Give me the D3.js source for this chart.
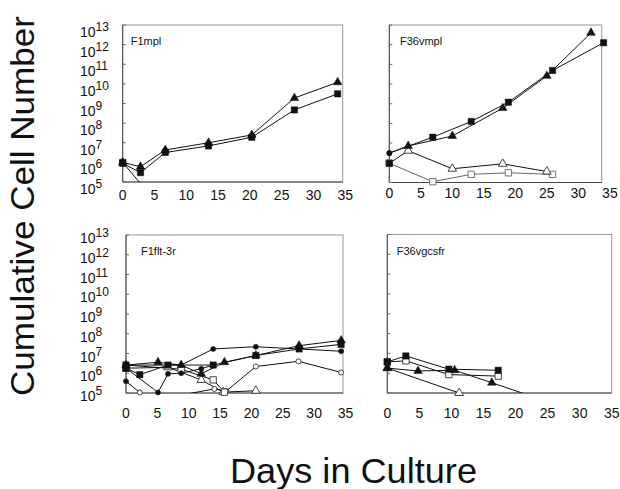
<!DOCTYPE html>
<html>
<head>
<meta charset="utf-8">
<script src="https://cdn.jsdelivr.net/npm/d3@7"></script>
<style>
  body { margin: 0; background: #fff; }
  svg { display: block; font-family: "Liberation Sans", Arial, sans-serif; }
</style>
</head>
<body>
<svg id="chart" width="620" height="489"></svg>
<script>
// tick values
var xTicks = [0, 5, 10, 15, 20, 25, 30, 35];
var yExps = [5, 6, 7, 8, 9, 10, 11, 12, 13];

// F1mpl
var f1mplSquares = [[0, 8.9e5], [2.8, 3.0e5], [6.7, 3.2e6], [13.5, 6.9e6], [20.3, 1.9e7], [27, 4.7e8], [33.8, 3.1e9]];
var f1mplTriangles = [[0, 1.0e6], [2.8, 6.0e5], [6.7, 4.3e6], [13.5, 1.0e7], [20.3, 2.5e7], [27, 1.9e9], [33.8, 1.2e10]];
var f1mplDrop = [[0, 1.0e6], [3, 7e4]];

// F36vmpl
var f36vmplSquares = [[0, 3.1e6], [6.9, 2.0e7], [13, 1.26e8], [18.9, 1.2e9], [25.9, 4.9e10], [34, 1.26e12]];
var f36vmplTriangles = [[0, 3.1e6], [3, 7.2e6], [10, 2.3e7], [18, 6.0e8], [25, 2.6e10], [32, 4.0e12]];
var f36vmplOpenTri = [[0, 9.5e5], [3, 4.1e6], [10, 5.0e5], [18, 8.9e5], [25, 3.6e5]];
var f36vmplOpenSq = [[0, 9.5e5], [6.9, 1.1e5], [13, 2.6e5], [18.9, 3.1e5], [25.9, 2.6e5]];

// F1flt-3r
var flt1 = [[0, 2.6e6], [8.8, 2.6e6], [13.9, 1.7e7], [20.7, 2.2e7], [27.6, 1.7e7], [34.3, 1.3e7]];
var flt2 = [[0, 1.8e6], [2.2, 8.5e5], [6.7, 2.6e6], [13.9, 2.6e6], [20.7, 7.9e6], [27.6, 1.7e7], [34.3, 2.9e7]];
var flt3 = [[0, 2.6e6], [5.1, 3.6e6], [8.8, 2.6e6], [12, 9.3e5], [15.7, 3.6e6], [20.7, 7.9e6], [27.6, 2.5e7], [34.3, 4.6e7]];
var flt4 = [[0, 1.8e6], [5.1, 1.07e5], [6.7, 9.3e5], [8.8, 1.0e6], [12, 1.7e6], [13.9, 2.6e6]];
var flt5 = [[0, 3.9e5], [2.2, 1.07e5], [5, 5e4]];
var flt6 = [[10, 9.3e4], [14.1, 1.6e5], [16, 1.26e5], [20.7, 2.2e6], [27.5, 4.0e6], [34.3, 1.1e6]];
var flt7 = [[0, 1.8e6], [6.7, 2.0e6], [12, 4.6e5], [15.5, 1.1e5], [20.7, 1.3e5]];
var flt8 = [[0, 2.6e6], [8.8, 1.6e6], [13.9, 4.6e5], [15.7, 1.1e5]];

// F36vgcsfr
var gcsfrSquares = [[0, 3.7e6], [2.9, 7.4e6], [9.6, 1.6e6], [17.3, 1.4e6]];
var gcsfrOpenSq = [[0, 3.7e6], [2.9, 4.2e6], [9.6, 8.5e5], [17.3, 7.1e5]];
var gcsfrTriangles = [[0, 1.8e6], [4.8, 1.3e6], [10.5, 1.4e6], [16.3, 3.3e5], [24, 4.7e4]];
var gcsfrOpenTri = [[0, 1.8e6], [11.2, 1.0e5]];

var panels = [
  { title: "F1mpl", left: 122.7, right: 342.7, top: 25, bottom: 182, xMax: 34.6, yLabels: true, labelOff: 12, tickY: 200, titleDx: 8,
    series: [
      { data: f1mplDrop, shape: "square", fill: true },
      { data: f1mplSquares, shape: "square", fill: true },
      { data: f1mplTriangles, shape: "triangle", fill: true }
    ] },
  { title: "F36vmpl", left: 389.3, right: 601.7, top: 25, bottom: 182.5, xMax: 33.7, yLabels: false, tickY: 198, titleDx: 10.7,
    series: [
      { data: f36vmplOpenSq, shape: "square", fill: false, stroke: "#666", start: "square" },
      { data: f36vmplOpenTri, shape: "triangle", fill: false, start: "square" },
      { data: f36vmplSquares, shape: "square", fill: true, start: "circle" },
      { data: f36vmplTriangles, shape: "triangle", fill: true, start: "circle" }
    ] },
  { title: "F1flt-3r", left: 126, right: 343, top: 235, bottom: 393, xMax: 34.6, yLabels: true, labelOff: 8, tickY: 418, titleDx: 15,
    series: [
      { data: flt5, shape: "circle", fill: false, start: "circle" },
      { data: flt6, shape: "circle", fill: false },
      { data: flt7, shape: "triangle", fill: false, start: "square" },
      { data: flt8, shape: "square", fill: false, start: "square" },
      { data: flt4, shape: "circle", fill: true },
      { data: flt1, shape: "circle", fill: true },
      { data: flt2, shape: "square", fill: true },
      { data: flt3, shape: "triangle", fill: true }
    ] },
  { title: "F36vgcsfr", left: 387.3, right: 611.7, top: 234.5, bottom: 393, xMax: 35, yLabels: false, tickY: 418, titleDx: 9.4,
    series: [
      { data: gcsfrOpenTri, shape: "triangle", fill: false, start: "triangle" },
      { data: gcsfrOpenSq, shape: "square", fill: false, start: "square" },
      { data: gcsfrTriangles, shape: "triangle", fill: true },
      { data: gcsfrSquares, shape: "square", fill: true }
    ] }
];

var svg = d3.select("#chart");

var symbolType = { square: d3.symbolSquare, triangle: d3.symbolTriangle, circle: d3.symbolCircle };
var symbolSize = { square: 40, triangle: 32, circle: 20 };

panels.forEach(function (p, i) {
  var x = d3.scaleLinear().domain([0, p.xMax]).range([p.left, p.right]);
  var y = d3.scaleLog().domain([1e5, 1e13]).range([p.bottom, p.top]);

  var g = svg.append("g");

  g.append("clipPath").attr("id", "clip" + i)
    .append("rect")
    .attr("x", p.left).attr("y", p.top)
    .attr("width", p.right - p.left).attr("height", p.bottom - p.top);

  // frame
  g.append("rect")
    .attr("x", p.left).attr("y", p.top)
    .attr("width", p.right - p.left).attr("height", p.bottom - p.top)
    .attr("fill", "none").attr("stroke", "#999").attr("stroke-width", 1);
  g.append("line")
    .attr("x1", p.left).attr("x2", p.left).attr("y1", p.top).attr("y2", p.bottom)
    .attr("stroke", "#444");
  g.append("line")
    .attr("x1", p.left).attr("x2", p.right).attr("y1", p.bottom).attr("y2", p.bottom)
    .attr("stroke", "#444");

  // small inward ticks on the log axis
  g.selectAll(".ytick").data(yExps).enter().append("line")
    .attr("x1", p.left).attr("x2", p.left + 3)
    .attr("y1", function (e) { return y(Math.pow(10, e)); })
    .attr("y2", function (e) { return y(Math.pow(10, e)); })
    .attr("stroke", "#666");

  if (p.yLabels) {
    var lab = g.selectAll(".ylab").data(yExps).enter().append("text")
      .attr("x", 80)
      .attr("y", function (e) { return y(Math.pow(10, e)) + p.labelOff; })
      .attr("font-size", 14)
      .attr("fill", "#111");
    lab.append("tspan").text("10");
    lab.append("tspan").attr("dy", -6).attr("font-size", 12)
      .text(function (e) { return e; });
  }

  g.selectAll(".xlab").data(xTicks).enter().append("text")
    .attr("x", function (d) { return x(d); })
    .attr("y", p.tickY)
    .attr("text-anchor", "middle")
    .attr("font-size", 14)
    .attr("fill", "#111")
    .text(function (d) { return d; });

  g.append("text")
    .attr("x", p.left + p.titleDx)
    .attr("y", p.top + 20)
    .attr("font-size", 11)
    .attr("fill", "#111")
    .text(p.title);

  var line = d3.line()
    .x(function (d) { return x(d[0]); })
    .y(function (d) { return y(d[1]); });

  var plot = g.append("g").attr("clip-path", "url(#clip" + i + ")");

  p.series.forEach(function (s) {
    plot.append("path")
      .datum(s.data)
      .attr("d", line)
      .attr("fill", "none")
      .attr("stroke", s.stroke || "#111")
      .attr("stroke-width", 1);
  });

  p.series.forEach(function (s) {
    // the day-0 point is often shared and drawn as a filled mark
    var pts = s.data.filter(function (d) { return d[1] >= 1e5; });
    g.selectAll(null)
      .data(pts)
      .enter().append("path")
      .attr("d", function (d, k) {
        var first = s.start && d[0] === 0;
        var shape = first ? s.start : s.shape;
        return d3.symbol().type(symbolType[shape]).size(symbolSize[shape])();
      })
      .attr("transform", function (d) { return "translate(" + x(d[0]) + "," + y(d[1]) + ")"; })
      .attr("fill", function (d) { return (s.fill || (s.start && d[0] === 0)) ? "#111" : "#fff"; })
      .attr("stroke", s.fill ? "#111" : (s.stroke || "#333"))
      .attr("stroke-width", s.fill ? 0.5 : 0.9);
  });
});

// axis titles
svg.append("text")
  .attr("transform", "translate(33.5,206) rotate(-90)")
  .attr("text-anchor", "middle")
  .attr("font-size", 33)
  .attr("textLength", 380)
  .attr("lengthAdjust", "spacingAndGlyphs")
  .attr("fill", "#111")
  .text("Cumulative Cell Number");

svg.append("text")
  .attr("x", 353.5)
  .attr("y", 483)
  .attr("text-anchor", "middle")
  .attr("font-size", 35)
  .attr("textLength", 247)
  .attr("lengthAdjust", "spacingAndGlyphs")
  .attr("fill", "#111")
  .text("Days in Culture");
</script>
</body>
</html>
